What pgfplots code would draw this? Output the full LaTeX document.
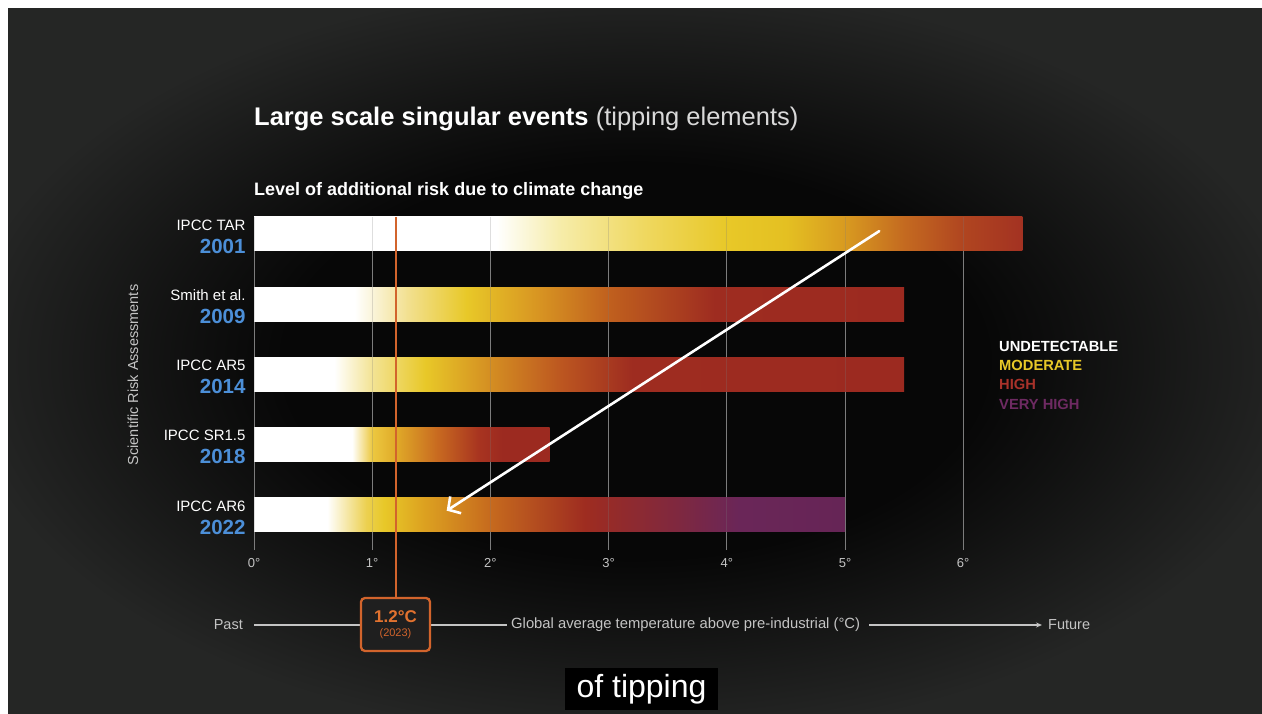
\documentclass[border=0pt]{standalone}
\usepackage{fontspec}
\setmainfont{Liberation Sans}
\usepackage{pgfplots}
\pgfplotsset{compat=1.18}
\usetikzlibrary{arrows.meta}

\definecolor{bgdark}{HTML}{070707}
\definecolor{bgout}{HTML}{252625}
\definecolor{gridgrey}{HTML}{7C7C7C}
\definecolor{yrblue}{HTML}{4C8FD8}
\definecolor{nowline}{HTML}{D2642C}
\definecolor{nowtext}{HTML}{E2722F}
\definecolor{labgrey}{HTML}{C4C4C4}
\definecolor{cMod}{HTML}{E8C828}
\definecolor{cHigh}{HTML}{A8322A}
\definecolor{cVHigh}{HTML}{6E2A62}

\pgfdeclareradialshading{bgshade}{\pgfpoint{0bp}{0bp}}{color(0bp)=(bgdark); color(14bp)=(bgdark); color(27bp)=(bgout); color(50bp)=(bgout)}

% TAR 2001 (bar 0..6.5)
\pgfdeclarehorizontalshading{shTAR}{100bp}{color(0bp)=(white); color(25bp)=(white); color(40.77bp)=(white);
 color(45bp)=(rgb,255:red,246;green,236;blue,168); color(50.38bp)=(rgb,255:red,239;green,216;blue,96);
 color(55.77bp)=(rgb,255:red,232;green,200;blue,40); color(59.62bp)=(rgb,255:red,228;green,192;blue,34);
 color(63.46bp)=(rgb,255:red,216;green,154;blue,32); color(67.31bp)=(rgb,255:red,196;green,106;blue,32);
 color(71.15bp)=(rgb,255:red,176;green,69;blue,32); color(75bp)=(rgb,255:red,163;green,50;blue,34);
 color(100bp)=(rgb,255:red,163;green,50;blue,34)}
% Smith 2009 (0..5.5)
\pgfdeclarehorizontalshading{shSmith}{100bp}{color(0bp)=(white); color(25bp)=(white); color(32.73bp)=(white);
 color(36.82bp)=(rgb,255:red,242;green,224;blue,144); color(41.36bp)=(rgb,255:red,232;green,200;blue,40);
 color(46.82bp)=(rgb,255:red,216;green,149;blue,34); color(52.27bp)=(rgb,255:red,192;green,96;blue,30);
 color(60.45bp)=(rgb,255:red,158;green,44;blue,32); color(75bp)=(rgb,255:red,156;green,42;blue,32);
 color(100bp)=(rgb,255:red,156;green,42;blue,32)}
% AR5 2014 (0..5.5)
\pgfdeclarehorizontalshading{shARfive}{100bp}{color(0bp)=(white); color(25bp)=(white); color(31.18bp)=(white);
 color(34.09bp)=(rgb,255:red,243;green,227;blue,148); color(38.18bp)=(rgb,255:red,232;green,200;blue,40);
 color(43.18bp)=(rgb,255:red,212;green,142;blue,34); color(48.64bp)=(rgb,255:red,188;green,86;blue,32);
 color(54.09bp)=(rgb,255:red,158;green,44;blue,32); color(75bp)=(rgb,255:red,156;green,42;blue,32);
 color(100bp)=(rgb,255:red,156;green,42;blue,32)}
% SR1.5 2018 (0..2.5)
\pgfdeclarehorizontalshading{shSR}{100bp}{color(0bp)=(white); color(25bp)=(white); color(41.6bp)=(white);
 color(45bp)=(rgb,255:red,236;green,200;blue,64); color(49bp)=(rgb,255:red,224;green,170;blue,40);
 color(56bp)=(rgb,255:red,200;green,106;blue,32); color(63bp)=(rgb,255:red,168;green,52;blue,32);
 color(67bp)=(rgb,255:red,156;green,42;blue,32); color(75bp)=(rgb,255:red,156;green,42;blue,32);
 color(100bp)=(rgb,255:red,156;green,42;blue,32)}
% AR6 2022 (0..5.0)
\pgfdeclarehorizontalshading{shARsix}{100bp}{color(0bp)=(white); color(25bp)=(white); color(31.2bp)=(white);
 color(34.5bp)=(rgb,255:red,236;green,208;blue,80); color(36bp)=(rgb,255:red,232;green,200;blue,40);
 color(39.5bp)=(rgb,255:red,220;green,160;blue,32); color(45bp)=(rgb,255:red,198;green,106;blue,30);
 color(53bp)=(rgb,255:red,158;green,44;blue,32); color(61bp)=(rgb,255:red,126;green,40;blue,64);
 color(66bp)=(rgb,255:red,106;green,38;blue,88); color(75bp)=(rgb,255:red,102;green,37;blue,86);
 color(100bp)=(rgb,255:red,102;green,37;blue,86)}

\newcommand{\yl}[2]{#1\\[1pt]{\fontsize{20.5}{22}\selectfont\bfseries\color{yrblue}#2}}

\begin{document}
\begin{tikzpicture}[x=1pt,y=1pt]
\fill[white] (0,0) rectangle (1262,713);
\shade[shading=bgshade] (8,0) rectangle (1262,704);

% titles
\node[anchor=base west, inner sep=0pt, text=white] at (254,587)
  {\fontsize{25.5}{30}\selectfont\bfseries Large scale singular events\ \mdseries\color{white!85!black}(tipping elements)};
\node[anchor=base west, inner sep=0pt, text=white] at (254,517)
  {\fontsize{18}{22}\selectfont\bfseries Level of additional risk due to climate change};

\begin{axis}[
  at={(254pt,163pt)}, anchor=south west,
  width=768.3pt, height=333.1pt, scale only axis,
  xmin=0, xmax=6.5, ymin=0.5, ymax=5.242,
  clip=false,
  axis line style={draw=none},
  major tick length=0pt,
  xtick={0,1,2,3,4,5,6},
  xticklabels={0°,1°,2°,3°,4°,5°,6°},
  xticklabel style={font=\fontsize{13}{15}\selectfont, text=labgrey, yshift=-4.5pt},
  xmajorgrids,
  major grid style={draw=gridgrey, line width=1pt},
  ytick={1,2,3,4,5},
  yticklabels={{\yl{IPCC AR6}{2022}},{\yl{IPCC SR1.5}{2018}},{\yl{IPCC AR5}{2014}},{\yl{Smith et al.}{2009}},{\yl{IPCC TAR}{2001}}},
  yticklabel style={align=right, text=white, xshift=-5pt, yshift=-2.5pt, font=\fontsize{15}{22}\selectfont},
  ylabel={Scientific Risk Assessments},
  every axis y label/.style={at={(rel axis cs:-0.1575,0.5255)}, anchor=center, rotate=90,
    font=\fontsize{14.5}{16}\selectfont, text=labgrey},
]
\addplot[xbar, bar shift=0pt, bar width=34pt, draw=none, shade, shading=shTAR] coordinates {(6.5,5)};
\addplot[xbar, bar shift=0pt, bar width=34pt, draw=none, shade, shading=shSmith] coordinates {(5.5,4)};
\addplot[xbar, bar shift=0pt, bar width=34pt, draw=none, shade, shading=shARfive] coordinates {(5.5,3)};
\addplot[xbar, bar shift=0pt, bar width=34pt, draw=none, shade, shading=shSR] coordinates {(2.5,2)};
\addplot[xbar, bar shift=0pt, bar width=34pt, draw=none, shade, shading=shARsix] coordinates {(5.0,1)};
% faint grid over bars
\pgfplotsinvokeforeach{0,1,2,3,4,5,6}{\draw[gridgrey, line width=1pt, opacity=0.25] (axis cs:#1,0.5) -- (axis cs:#1,5.242);}
% present-day line at 1.2 degC
\draw[nowline, line width=2.5pt] (axis cs:1.2,5.242) -- (axis cs:1.2,-0.18);
% hand-drawn arrow
\draw[white, line width=2.6pt, line cap=round, -{Straight Barb[length=9pt,width=20pt,line width=2.6pt]}]
  (axis cs:5.29,5.04) -- (axis cs:1.63,1.06);
\end{axis}

% legend of risk levels
\begin{scope}[every node/.style={anchor=west, inner sep=0pt, font=\fontsize{14.7}{16}\selectfont\bfseries}]
\node[text=white] at (999,367) {UNDETECTABLE};
\node[text=cMod] at (999,348) {MODERATE};
\node[text=cHigh] at (999,329) {HIGH};
\node[text=cVHigh] at (999,309) {VERY HIGH};
\end{scope}

% timeline
\node[anchor=east, inner sep=0pt, text=labgrey, font=\fontsize{14.5}{16}\selectfont] at (243,88) {Past};
\draw[labgrey, line width=1.1pt] (254,88) -- (361,88);
\draw[labgrey, line width=1.1pt] (430,88) -- (507,88);
\node[anchor=west, inner sep=0pt, text=labgrey, font=\fontsize{14.8}{16}\selectfont] at (511,88) {Global average temperature above pre-industrial (°C)};
\draw[labgrey, line width=1.1pt, -{Stealth[length=6pt,width=5pt]}] (869,88) -- (1042,88);
\node[anchor=west, inner sep=0pt, text=labgrey, font=\fontsize{14.5}{16}\selectfont] at (1048,88) {Future};
\draw[nowline, line width=2.3pt, rounded corners=4pt, fill=black!88!white] (361,62) rectangle (430,115);
\node[text=nowtext, inner sep=0pt, font=\fontsize{17}{19}\selectfont\bfseries] at (395.5,96) {1.2°C};
\node[text=nowline, inner sep=0pt, font=\fontsize{11}{13}\selectfont] at (395.5,79) {(2023)};

% video caption
\node[fill=black, text=white, minimum height=42pt, minimum width=153pt, inner sep=0pt,
  font=\fontsize{32}{36}\selectfont] at (641.5,24) {of tipping};
\end{tikzpicture}
\end{document}
